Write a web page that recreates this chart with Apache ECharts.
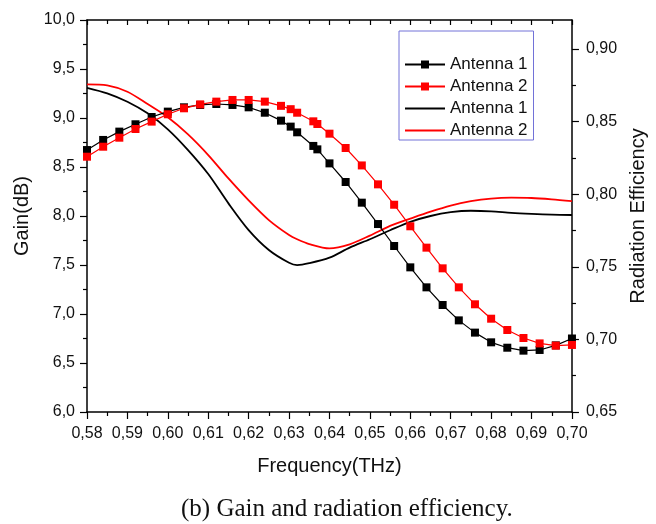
<!DOCTYPE html>
<html>
<head>
<meta charset="utf-8">
<script src="https://cdn.jsdelivr.net/npm/echarts@6/dist/echarts.min.js"></script>
<style>
  html, body { margin: 0; padding: 0; background: #fff; }
  #chart { width: 656px; height: 524px; }
</style>
</head>
<body>
<div id="chart"></div>
<script>
// ---- Data ----
const freqGain = [0.580,0.584,0.588,0.592,0.596,0.600,0.604,0.608,0.612,0.616,0.620,0.624,0.628,0.6304,0.632,0.636,0.637,0.640,0.644,0.648,0.652,0.656,0.660,0.664,0.668,0.672,0.676,0.680,0.684,0.688,0.692,0.696,0.700];
const gainAntenna1 = [8.673,8.776,8.861,8.936,9.010,9.065,9.109,9.133,9.143,9.133,9.109,9.054,8.973,8.912,8.854,8.715,8.680,8.537,8.347,8.136,7.918,7.694,7.476,7.272,7.092,6.935,6.810,6.711,6.656,6.626,6.633,6.680,6.750];
const gainAntenna2 = [8.605,8.707,8.799,8.888,8.963,9.038,9.099,9.139,9.167,9.184,9.184,9.167,9.124,9.090,9.054,8.966,8.939,8.840,8.694,8.516,8.323,8.115,7.895,7.677,7.466,7.272,7.099,6.952,6.837,6.755,6.700,6.677,6.684];

const freqEff = [0.580,0.585,0.590,0.595,0.600,0.605,0.610,0.615,0.620,0.625,0.630,0.632,0.635,0.640,0.645,0.650,0.655,0.660,0.665,0.670,0.675,0.680,0.685,0.690,0.695,0.700];
const effAntenna1 = [0.8733,0.8695,0.8637,0.8557,0.8447,0.8304,0.8139,0.7937,0.7753,0.7616,0.7528,0.7512,0.7525,0.7563,0.7632,0.7690,0.7752,0.7810,0.7850,0.7876,0.7886,0.7882,0.7871,0.7864,0.7859,0.7857];
const effAntenna2 = [0.8757,0.8750,0.8706,0.8621,0.8530,0.8412,0.8270,0.8109,0.7958,0.7822,0.7719,0.7690,0.7657,0.7627,0.7655,0.7715,0.7782,0.7832,0.7880,0.7922,0.7952,0.7970,0.7976,0.7974,0.7965,0.7953];

const effMajorTicks = [0.65,0.70,0.75,0.80,0.85,0.90];
const effMinorTicks = [0.675,0.725,0.775,0.825,0.875];

const seriesNames = ['Antenna 1 gain','Antenna 2 gain','Antenna 1 eff','Antenna 2 eff'];
const xTitle = 'Frequency(THz)';
const yLeftTitle = 'Gain(dB)';
const yRightTitle = 'Radiation Efficiency';
const caption = '(b) Gain and radiation efficiency.';

function zip(xs, ys) { return xs.map((x, i) => [x, ys[i]]); }

const SANS = '"Liberation Sans", Arial, sans-serif';
const TXT = '#111';
const AX = { lineStyle: { color: '#000', width: 1.5 } };
const TK = { color: '#000', width: 1.2 };
const LINE_ICON = 'path://M0,0L40,0L40,2L0,2Z';

const chart = echarts.init(document.getElementById('chart'), null, { renderer: 'canvas' });
chart.setOption({
  animation: false,
  backgroundColor: '#fff',
  title: {
    text: caption,
    left: 176,
    top: 492,
    textStyle: { fontFamily: '"Liberation Serif", "Times New Roman", serif', fontSize: 25, fontWeight: 'normal', color: '#111' }
  },
  grid: { left: 87, right: 84, top: 20, bottom: 112, containLabel: false },
  legend: {
    orient: 'vertical',
    left: 399,
    top: 31,
    data: [
      { name: seriesNames[0] },
      { name: seriesNames[1] },
      { name: seriesNames[2], icon: LINE_ICON },
      { name: seriesNames[3], icon: LINE_ICON }
    ],
    formatter: n => n.replace(/ (gain|eff)$/, ''),
    borderColor: '#7272d8',
    borderWidth: 1,
    padding: [25, 6, 1, 5],
    itemWidth: 40,
    itemHeight: 10,
    itemGap: 5,
    textStyle: { fontFamily: SANS, fontSize: 17, color: TXT },
    selectedMode: false
  },
  xAxis: [
    {
      type: 'value', position: 'bottom', min: 0.58, max: 0.70, interval: 0.01,
      axisLine: AX,
      axisTick: { show: true, inside: false, length: 7, lineStyle: TK },
      minorTick: { show: true, splitNumber: 2, length: 4, lineStyle: TK },
      splitLine: { show: false },
      axisLabel: { fontFamily: SANS, fontSize: 16, color: TXT, margin: 14, formatter: v => v.toFixed(2).replace('.', ',') },
      name: xTitle, nameLocation: 'middle', nameGap: 44,
      nameTextStyle: { fontFamily: SANS, fontSize: 20, color: TXT }
    },
    {
      type: 'value', position: 'top', min: 0.58, max: 0.70, interval: 0.01,
      axisLine: AX,
      axisTick: { show: true, inside: true, length: 5, lineStyle: TK },
      minorTick: { show: true, splitNumber: 2, length: 4, lineStyle: TK },
      splitLine: { show: false },
      axisLabel: { show: false }
    }
  ],
  yAxis: [
    {
      type: 'value', position: 'left', min: 6, max: 10, interval: 0.5,
      axisLine: { show: true, ...AX },
      axisTick: { show: true, inside: false, length: 7, lineStyle: TK },
      minorTick: { show: true, splitNumber: 2, length: 4, lineStyle: TK },
      splitLine: { show: false },
      axisLabel: { fontFamily: SANS, fontSize: 16, color: TXT, margin: 12, formatter: v => v.toFixed(1).replace('.', ',') },
      name: yLeftTitle, nameLocation: 'middle', nameGap: 47,
      nameTextStyle: { fontFamily: SANS, fontSize: 20, color: TXT }
    },
    {
      type: 'value', position: 'right', offset: 0, min: 0.65, max: 0.92, interval: 0.05,
      axisLine: { show: true, ...AX },
      axisTick: { show: true, inside: false, length: 7, lineStyle: TK, customValues: effMajorTicks },
      minorTick: { show: false },
      splitLine: { show: false },
      axisLabel: { fontFamily: SANS, fontSize: 16, color: TXT, margin: 14, customValues: effMajorTicks,
        formatter: v => v.toFixed(2).replace('.', ',') },
      name: yRightTitle, nameLocation: 'middle', nameGap: 53,
      nameTextStyle: { fontFamily: SANS, fontSize: 20, color: TXT }
    },
    {
      type: 'value', position: 'right', offset: 0, min: 0.65, max: 0.92, interval: 0.05,
      axisLine: { show: false },
      axisTick: { show: true, inside: false, length: 4, lineStyle: TK, customValues: effMinorTicks },
      minorTick: { show: false },
      splitLine: { show: false },
      axisLabel: { show: false }
    }
  ],
  series: [
    {
      name: seriesNames[0], type: 'line', xAxisIndex: 0, yAxisIndex: 0,
      data: zip(freqGain, gainAntenna1),
      symbol: 'rect', symbolSize: 8, showAllSymbol: true,
      lineStyle: { color: '#000', width: 1.2 }, itemStyle: { color: '#000' }, z: 3
    },
    {
      name: seriesNames[1], type: 'line', xAxisIndex: 0, yAxisIndex: 0,
      data: zip(freqGain, gainAntenna2),
      symbol: 'rect', symbolSize: 8, showAllSymbol: true,
      lineStyle: { color: '#ff0000', width: 1.2 }, itemStyle: { color: '#ff0000' }, z: 4
    },
    {
      name: seriesNames[2], type: 'line', xAxisIndex: 0, yAxisIndex: 1,
      data: zip(freqEff, effAntenna1),
      symbol: 'none', smooth: 0.3,
      lineStyle: { color: '#000', width: 1.8 }, itemStyle: { color: '#000' }, z: 2
    },
    {
      name: seriesNames[3], type: 'line', xAxisIndex: 0, yAxisIndex: 1,
      data: zip(freqEff, effAntenna2),
      symbol: 'none', smooth: 0.3,
      lineStyle: { color: '#ff0000', width: 1.8 }, itemStyle: { color: '#ff0000' }, z: 2
    }
  ]
});
</script>
</body>
</html>
